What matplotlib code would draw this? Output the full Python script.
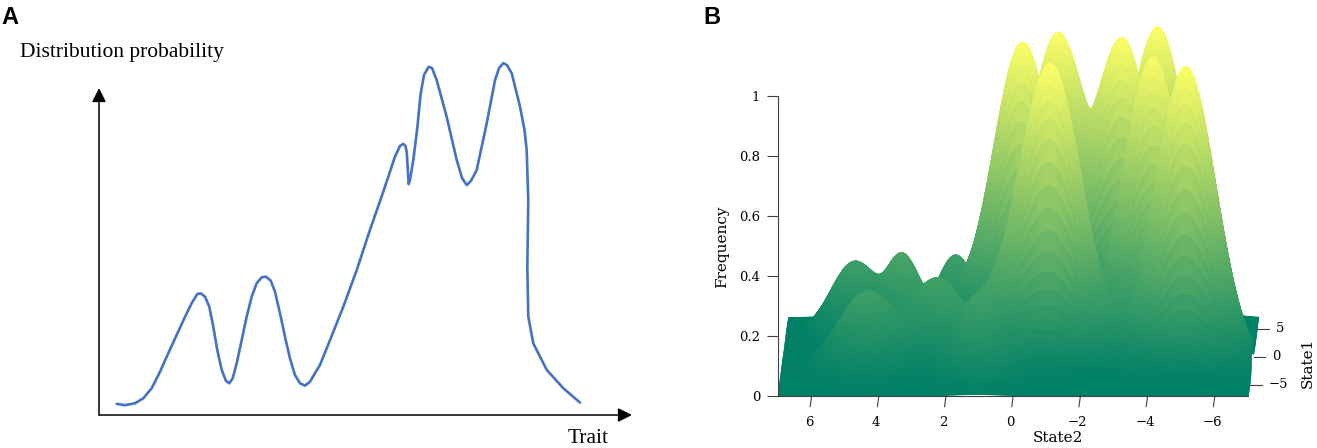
import numpy as np
import matplotlib
matplotlib.use("Agg")
import matplotlib.pyplot as plt
from matplotlib.collections import PolyCollection

W, H = 1317, 448

# ---- panel A: hand drawn distribution curve
trait = [0.332, 0.488, 0.675, 0.831, 0.989, 1.144, 1.300, 1.458, 1.614, 1.739,
         1.844, 1.908, 1.989, 2.069, 2.144, 2.219, 2.302, 2.383, 2.445, 2.508,
         2.583, 2.677, 2.771, 2.865, 2.959, 3.053, 3.133, 3.221, 3.302, 3.396,
         3.490, 3.583, 3.677, 3.771, 3.865, 3.959, 4.053, 4.146,
         4.334, 4.583, 4.835, 5.084, 5.334, 5.553, 5.647, 5.709, 5.750, 5.773,
         5.794, 5.810, 5.835, 5.897, 5.972, 6.032, 6.098, 6.186, 6.248, 6.336,
         6.523, 6.711, 6.811, 6.899, 6.979, 7.086, 7.274, 7.430, 7.505, 7.585,
         7.655, 7.743, 7.899, 7.983, 8.024, 8.054, 8.036, 8.054, 8.148, 8.400,
         8.711, 9.024]
prob = [0.034, 0.030, 0.036, 0.051, 0.082, 0.132, 0.189, 0.245, 0.300, 0.342,
        0.370, 0.372, 0.362, 0.331, 0.270, 0.199, 0.138, 0.104, 0.097, 0.112,
        0.158, 0.229, 0.301, 0.362, 0.403, 0.421, 0.423, 0.411, 0.377, 0.311,
        0.239, 0.173, 0.122, 0.097, 0.090, 0.102, 0.128, 0.153,
        0.229, 0.331, 0.443, 0.566, 0.683, 0.790, 0.823, 0.829, 0.823, 0.804,
        0.749, 0.706, 0.719, 0.780, 0.878, 0.979, 1.040, 1.065, 1.061, 1.024,
        0.912, 0.780, 0.725, 0.703, 0.716, 0.749, 0.892, 1.024, 1.061, 1.076,
        1.070, 1.045, 0.943, 0.872, 0.810, 0.657, 0.454, 0.301, 0.219, 0.138,
        0.082, 0.038]

# ---- panel B: bumps of the frequency surface (centre, height, widths)
peak_state2 = [-0.03, -1.04, -0.97, -3.02, -4.04, -3.98, -5.02,
               4.98, 3.53, 2.0, 4.46, 2.36, 1.08]
peak_state1 = [2.9, 5.0, -1.2, 3.6, 5.7, 0.8, -1.8,
               4.0, 2.5, 4.9, -1.87, 0.02, -3.07]
peak_height = [0.975, 0.95, 1.0, 0.955, 0.975, 0.98, 1.0,
               0.24, 0.27, 0.24, 0.25, 0.25, 0.24]
peak_sig2 = [0.9, 0.9, 0.95, 0.9, 0.9, 0.9, 0.9,
             0.7, 0.55, 0.55, 0.85, 0.75, 0.7]
peak_sig1 = [0.8, 0.8, 0.8, 0.8, 0.8, 0.8, 0.8,
             1.2, 1.2, 1.2, 1.4, 1.4, 1.4]

state2_ticks = [6, 4, 2, 0, -2, -4, -6]
state1_ticks = [-5, 0, 5]
freq_ticks = [0, 0.2, 0.4, 0.6, 0.8, 1]
freq_labels = ["0", "0.2", "0.4", "0.6", "0.8", "1"]

# oblique view: State1 shifts right and up
SHEAR = 0.0223
LIFT = 0.0187

plt.rcParams['font.family'] = ['DejaVu Serif']
fig = plt.figure(figsize=(W / 100, H / 100), dpi=100)


def fig_box(left, top, right, bottom):
    return [left / W, 1 - bottom / H, (right - left) / W, (bottom - top) / H]


# ================= panel A =================
axA = fig.add_axes(fig_box(99, 88, 632, 415))
axA.set_xlim(0, 10)
axA.set_ylim(0, 1)
for s in axA.spines.values():
    s.set_visible(False)
axA.set_xticks([])
axA.set_yticks([])
arrow = dict(arrowstyle='-|>,head_length=0.6,head_width=0.3', color='black',
             lw=1.1, mutation_scale=14, shrinkA=0, shrinkB=0)
axA.annotate('', xy=(1, 0), xytext=(0, 0), xycoords='axes fraction', arrowprops=arrow)
axA.annotate('', xy=(0, 1), xytext=(0, 0), xycoords='axes fraction', arrowprops=arrow)
axA.plot(trait, prob, color='#4472C4', lw=1.9, clip_on=False,
         solid_capstyle='round', solid_joinstyle='round')

serif = ['Liberation Serif', 'DejaVu Serif']
fig.text(20 / W, 1 - 52 / H, 'Distribution probability', family=serif,
         fontsize=15.5, ha='left', va='center')
fig.text(568 / W, 1 - 443 / H, 'Trait', family=serif, fontsize=15.5,
         ha='left', va='baseline')
fig.text(1 / W, 1 - 6 / H, 'A', family=['Liberation Sans', 'DejaVu Sans'],
         fontsize=17, fontweight='bold', ha='left', va='top')
fig.text(703 / W, 1 - 6 / H, 'B', family=['Liberation Sans', 'DejaVu Sans'],
         fontsize=17, fontweight='bold', ha='left', va='top')

# ================= panel B =================
axB = fig.add_axes(fig_box(778, 21, 778 + 14.6 * 33.6, 396))
axB.set_xlim(7, -7.6)
axB.set_ylim(0, 1.25)

s2 = np.linspace(-7, 7, 201)
s1 = np.linspace(-7, 7, 141)
S2, S1 = np.meshgrid(s2, s1)
Z = np.zeros_like(S2)
for c2, c1, h, g2, g1 in zip(peak_state2, peak_state1, peak_height, peak_sig2, peak_sig1):
    Z += h * np.exp(-((S2 - c2) ** 2 / (2 * g2 ** 2) + (S1 - c1) ** 2 / (2 * g1 ** 2)))

U = S2 - SHEAR * (S1 + 7)
V = Z + LIFT * (S1 + 7)
quads = np.stack([
    np.stack([U[:-1, :-1], V[:-1, :-1]], -1),
    np.stack([U[:-1, 1:], V[:-1, 1:]], -1),
    np.stack([U[1:, 1:], V[1:, 1:]], -1),
    np.stack([U[1:, :-1], V[1:, :-1]], -1),
], axis=2)
zface = (Z[:-1, :-1] + Z[:-1, 1:] + Z[1:, 1:] + Z[1:, :-1]) / 4
# back rows first so the front rows cover them
quads = quads[::-1].reshape(-1, 4, 2)
zface = zface[::-1].ravel()
colors = plt.cm.summer(zface / Z.max())
surf = PolyCollection(quads, facecolors=colors, edgecolors=colors, linewidths=0.5)
axB.add_collection(surf)

for name in ('top', 'right'):
    axB.spines[name].set_visible(False)
for name in ('left', 'bottom'):
    axB.spines[name].set_color('#404040')
    axB.spines[name].set_linewidth(0.8)
axB.spines['left'].set_bounds(0, 1)
axB.spines['bottom'].set_bounds(-7, 7)
axB.set_yticks(freq_ticks)
axB.set_yticklabels(freq_labels)
axB.tick_params(axis='y', direction='out', length=7.9, width=0.8, pad=5,
                labelsize=9.5, color='#404040')
axB.set_xticks([])

# State2 ticks point to the front (along State1)
tick_depth = 1.9
for t in state2_ticks:
    axB.plot([t, t + SHEAR * tick_depth], [0, -LIFT * tick_depth], color='#404040',
             lw=0.8, clip_on=False)
    axB.text(t + 0.08, -0.087, f"{t}".replace('-', '\u2212'), fontsize=9.5,
             ha='center', va='center')

# State1 ticks on the right edge (State2 = -7, z = 0)
for t in state1_ticks:
    u0 = -7 - SHEAR * (t + 7)
    v0 = LIFT * (t + 7)
    axB.plot([u0, u0 - 0.35], [v0, v0], color='#404040', lw=0.8, clip_on=False)
    axB.text(u0 - 0.55, v0, f"{t}".replace('-', '\u2212'), fontsize=9.5,
             ha='left', va='center', clip_on=False)

fig.text(722.5 / W, 1 - 247 / H, 'Frequency', fontsize=11, rotation=90,
         ha='center', va='center')
fig.text(1058 / W, 1 - 438 / H, 'State2', fontsize=11, ha='center', va='center')
fig.text(1308 / W, 1 - 363 / H, 'State1', fontsize=11, rotation=90,
         ha='center', va='center')

fig.savefig('out.png', dpi=100)
